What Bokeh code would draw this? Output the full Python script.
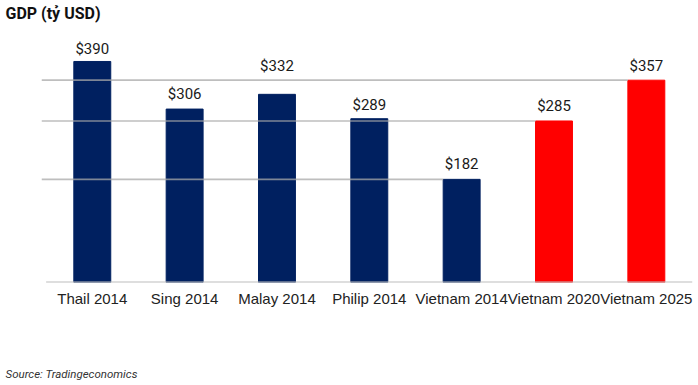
from bokeh.plotting import figure
from bokeh.models import ColumnDataSource, FixedTicker, Range1d, Title
from bokeh.core.properties import value
from bokeh.embed import file_html
from bokeh.resources import INLINE

categories = ["Thail 2014", "Sing 2014", "Malay 2014", "Philip 2014",
              "Vietnam 2014", "Vietnam 2020", "Vietnam 2025"]
gdp = [390, 306, 332, 289, 182, 285, 357]
is_forecast = [False, False, False, False, False, True, True]
label_gap_px = [12, 15, 28, 14, 15, 15, 14]

NAVY = "#002060"
RED = "#ff0000"
BAR_W = 0.4

xs = list(range(len(categories)))
colors = [RED if f else NAVY for f in is_forecast]
src = ColumnDataSource(dict(
    x=xs, top=gdp, color=colors,
    label=["$" + str(v) for v in gdp],
    yoff=[-g for g in label_gap_px],
))

p = figure(width=698, height=385, output_backend="svg", toolbar_location=None,
           x_range=Range1d(-0.55, 6.5), y_range=Range1d(0, 457),
           min_border_left=41, min_border_right=6, min_border_top=10,
           min_border_bottom=103, outline_line_color=None)

p.vbar(x="x", top="top", width=BAR_W, color="color", source=src)

# reference lines from each Vietnam value, drawn leftwards to the bar
vn = [i for i, c in enumerate(categories) if c.startswith("Vietnam")]
p.segment(x0=[-0.55] * len(vn), x1=[i - BAR_W / 2 for i in vn],
          y0=[gdp[i] for i in vn], y1=[gdp[i] for i in vn],
          line_color="#a8a8a8", line_alpha=0.75, line_width=1.6)

# baseline
p.segment(x0=[-0.5], x1=[6.5], y0=[0], y1=[0], line_color="#bdbdbd", line_width=2)

p.text(x="x", y="top", text="label", y_offset="yoff", source=src,
       text_align="center", text_baseline="alphabetic",
       text_font=value("Roboto"), text_font_size="15px", text_color="#1a1a1a")

p.xgrid.visible = False
p.ygrid.visible = False
p.yaxis.visible = False
ax = p.xaxis[0]
ax.ticker = FixedTicker(ticks=xs)
ax.major_label_overrides = {i: c for i, c in enumerate(categories)}
ax.axis_line_color = None
ax.major_tick_line_color = None
ax.minor_tick_line_color = None
ax.major_tick_out = 0
ax.major_label_standoff = 7
ax.major_label_text_font = "Liberation Sans"
ax.major_label_text_font_size = "15px"
ax.major_label_text_color = "#222222"

p.title.text = "GDP (tỷ USD)"
p.title.align = "left"
p.title.offset = -36
p.title.standoff = 2
p.title.text_font = "Roboto"
p.title.text_font_style = "bold"
p.title.text_font_size = "16px"
p.title.text_color = "#111111"

# spacer between the category labels and the source note
p.add_layout(Title(text=" ", standoff=49, text_font_size="1px"), "below")
p.add_layout(Title(text="Source: Tradingeconomics", align="left", offset=-36,
                   standoff=6,
                   text_font="Roboto", text_font_style="italic",
                   text_font_size="11.5px", text_color="#333333"), "below")

open("out.html", "w").write(file_html(p, INLINE))
